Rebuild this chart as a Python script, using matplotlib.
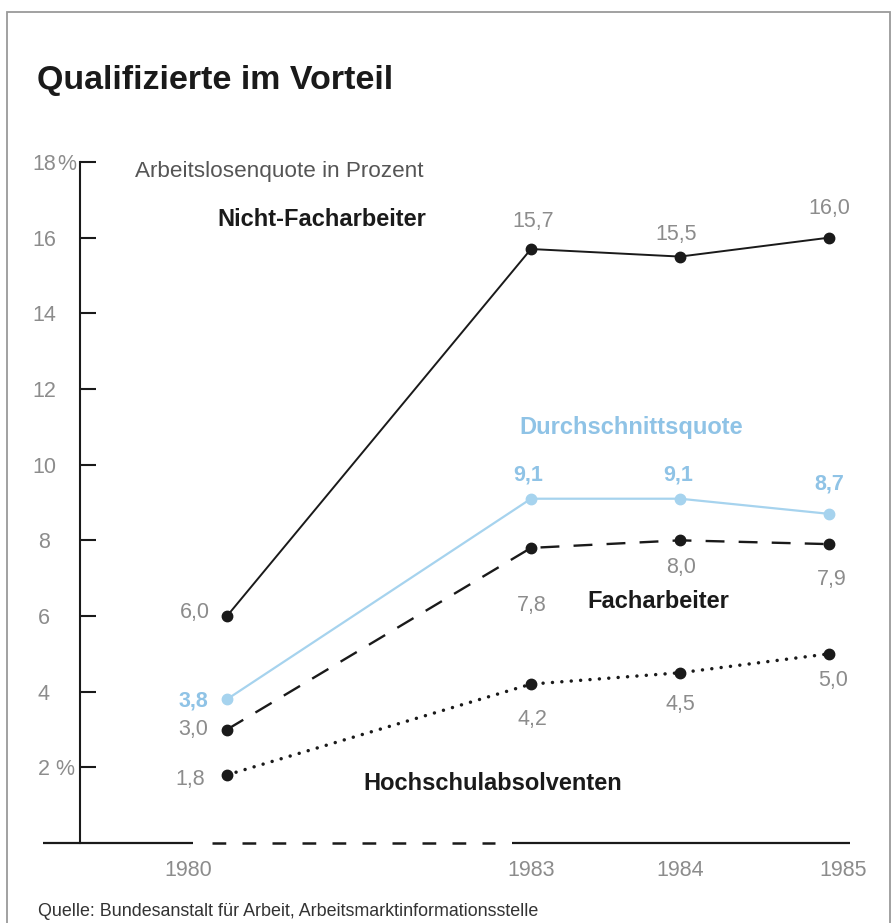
import matplotlib
matplotlib.use("Agg")
import matplotlib.pyplot as plt
from matplotlib.patches import Rectangle

plt.rcParams['font.family'] = ['Liberation Sans', 'DejaVu Sans']

# ---------------- data ----------------
years = [1980, 1983, 1984, 1985]
nicht_facharbeiter = [6.0, 15.7, 15.5, 16.0]
durchschnitt = [3.8, 9.1, 9.1, 8.7]
facharbeiter = [3.0, 7.8, 8.0, 7.9]
hochschul = [1.8, 4.2, 4.5, 5.0]
y_ticks = [2, 4, 6, 8, 10, 12, 14, 16, 18]
y_tick_labels = ['2', '4', '6', '8', '10', '12', '14', '16', '18']
y_unit = '%'

title = "Qualifizierte im Vorteil"
subtitle = "Arbeitslosenquote in Prozent"
source = "Quelle: Bundesanstalt für Arbeit, Arbeitsmarktinformationsstelle"

# ---------------- style ----------------
W, H = 895, 923
BLACK = '#1a1a1a'
GREY = '#8c8c8c'
BLUE_LINE = '#a6d3ee'
BLUE_TXT = '#8fc3e6'


def xpos(year):
    # broken axis: the gap 1980-1983 is compressed
    if year >= 1983:
        return year - 1980
    return 3 - (1983 - year) * 0.68


def px2x(px):
    return 3 + (px - 531) / 149.0


def fig_px(x, y):
    return x / W, 1 - y / H


def fmt(v):
    return f"{v:.1f}".replace('.', ',')


fig = plt.figure(figsize=(W / 100, H / 100), dpi=100)
ax = fig.add_axes([80 / W, (H - 843) / H, 800 / W, 681 / H])
ax.set_xlim(px2x(80), px2x(880))
ax.set_ylim(0, 18)

for s in ['top', 'right', 'bottom']:
    ax.spines[s].set_visible(False)
ax.spines['left'].set_linewidth(1.5)
ax.spines['left'].set_color(BLACK)

ax.set_yticks(y_ticks)
ax.set_yticklabels(y_tick_labels)
ax.tick_params(axis='y', direction='in', length=11.5, width=1.5, color=BLACK,
               labelsize=15.5, labelcolor=GREY, pad=26)
for lab in ax.get_yticklabels():
    lab.set_horizontalalignment('center')
ax.set_xticks([])

# percent signs on first and last tick
for v, dx in ((y_ticks[0], -25), (y_ticks[-1], -23)):
    ax.annotate(y_unit, (px2x(80), v), xytext=(dx, 0), textcoords='offset pixels',
                ha='left', va='center_baseline', fontsize=15.5, color=GREY,
                annotation_clip=False)

# broken x-axis baseline
ax.plot([px2x(43), px2x(193)], [0, 0], color=BLACK, lw=1.6, clip_on=False,
        solid_capstyle='butt')
ax.plot([px2x(212), px2x(495)], [0, 0], color=BLACK, lw=1.8, clip_on=False,
        linestyle=(0, (5.5, 6.5)), dash_capstyle='butt')
ax.plot([px2x(512), px2x(850)], [0, 0], color=BLACK, lw=1.6, clip_on=False,
        solid_capstyle='butt')

xs = [xpos(y) for y in years]
ms = 7.5

ax.plot(xs, nicht_facharbeiter, color=BLACK, lw=1.4, marker='o', ms=ms,
        mfc=BLACK, mec=BLACK, clip_on=False, zorder=4)
ax.plot(xs, durchschnitt, color=BLUE_LINE, lw=1.6, marker='o', ms=ms,
        mfc=BLUE_LINE, mec=BLUE_LINE, clip_on=False, zorder=3)
ax.plot(xs, facharbeiter, color=BLACK, lw=1.7, linestyle=(0, (8, 6)),
        marker='o', ms=ms, mfc=BLACK, mec=BLACK, clip_on=False, zorder=4)
ax.plot(xs, hochschul, color=BLACK, lw=2.5, linestyle=(0, (0.01, 2.7)),
        dash_capstyle='round', marker='o', ms=ms, mfc=BLACK, mec=BLACK,
        clip_on=False, zorder=4)

# value labels: (dx, dy) pixel offsets, per point
def label_series(vals, offsets, color, weight='normal'):
    for x, v, (dx, dy) in zip(xs, vals, offsets):
        ha = 'right' if dx < -5 else 'center'
        ax.annotate(fmt(v), (x, v), xytext=(dx, dy), textcoords='offset pixels',
                    ha=ha, va='center_baseline', fontsize=15.5, color=color,
                    fontweight=weight)

label_series(nicht_facharbeiter, [(-17, 6), (2, 30), (-4, 25), (0, 32)], GREY)
label_series(durchschnitt, [(-19, 1), (-3, 26), (-2, 26), (0, 32)], BLUE_TXT, 'bold')
label_series(facharbeiter, [(-19, 2), (1, -55), (1, -25), (3, -33)], GREY)
label_series(hochschul, [(-22, -2), (1, -33), (0, -29), (4, -24)], GREY)

# year labels
year_dx = [-39, 0, 0, 14]
for x, yr, dx in zip(xs, years, year_dx):
    ax.annotate(str(yr), (x, 0), xytext=(dx, -25), textcoords='offset pixels',
                ha='center', va='center_baseline', fontsize=15.5, color=GREY,
                annotation_clip=False)

# series names and texts
fig.text(*fig_px(135, 172), subtitle, ha='left', va='center', fontsize=16.2,
         color='#555555')
fig.text(*fig_px(217, 220), "Nicht-Facharbeiter", ha='left', va='center',
         fontsize=17, fontweight='bold', color=BLACK)
fig.text(*fig_px(519, 428), "Durchschnittsquote", ha='left', va='center',
         fontsize=17, fontweight='bold', color=BLUE_TXT)
fig.text(*fig_px(587, 602), "Facharbeiter", ha='left', va='center',
         fontsize=17, fontweight='bold', color=BLACK)
fig.text(*fig_px(363, 783), "Hochschulabsolventen", ha='left', va='center',
         fontsize=17, fontweight='bold', color=BLACK)

fig.text(*fig_px(37, 80), title, ha='left', va='center', fontsize=24.5,
         fontweight='bold', color=BLACK)
fig.text(*fig_px(38, 912), source, ha='left', va='center', fontsize=12.9,
         color='#333333')

# frame
fig.patches.append(Rectangle((7 / W, -0.02), (890 - 7) / W, 1 - 12 / H + 0.02,
                             transform=fig.transFigure, fill=False,
                             edgecolor='#9a9a9a', lw=1.3))

fig.savefig("out.png", dpi=100)
